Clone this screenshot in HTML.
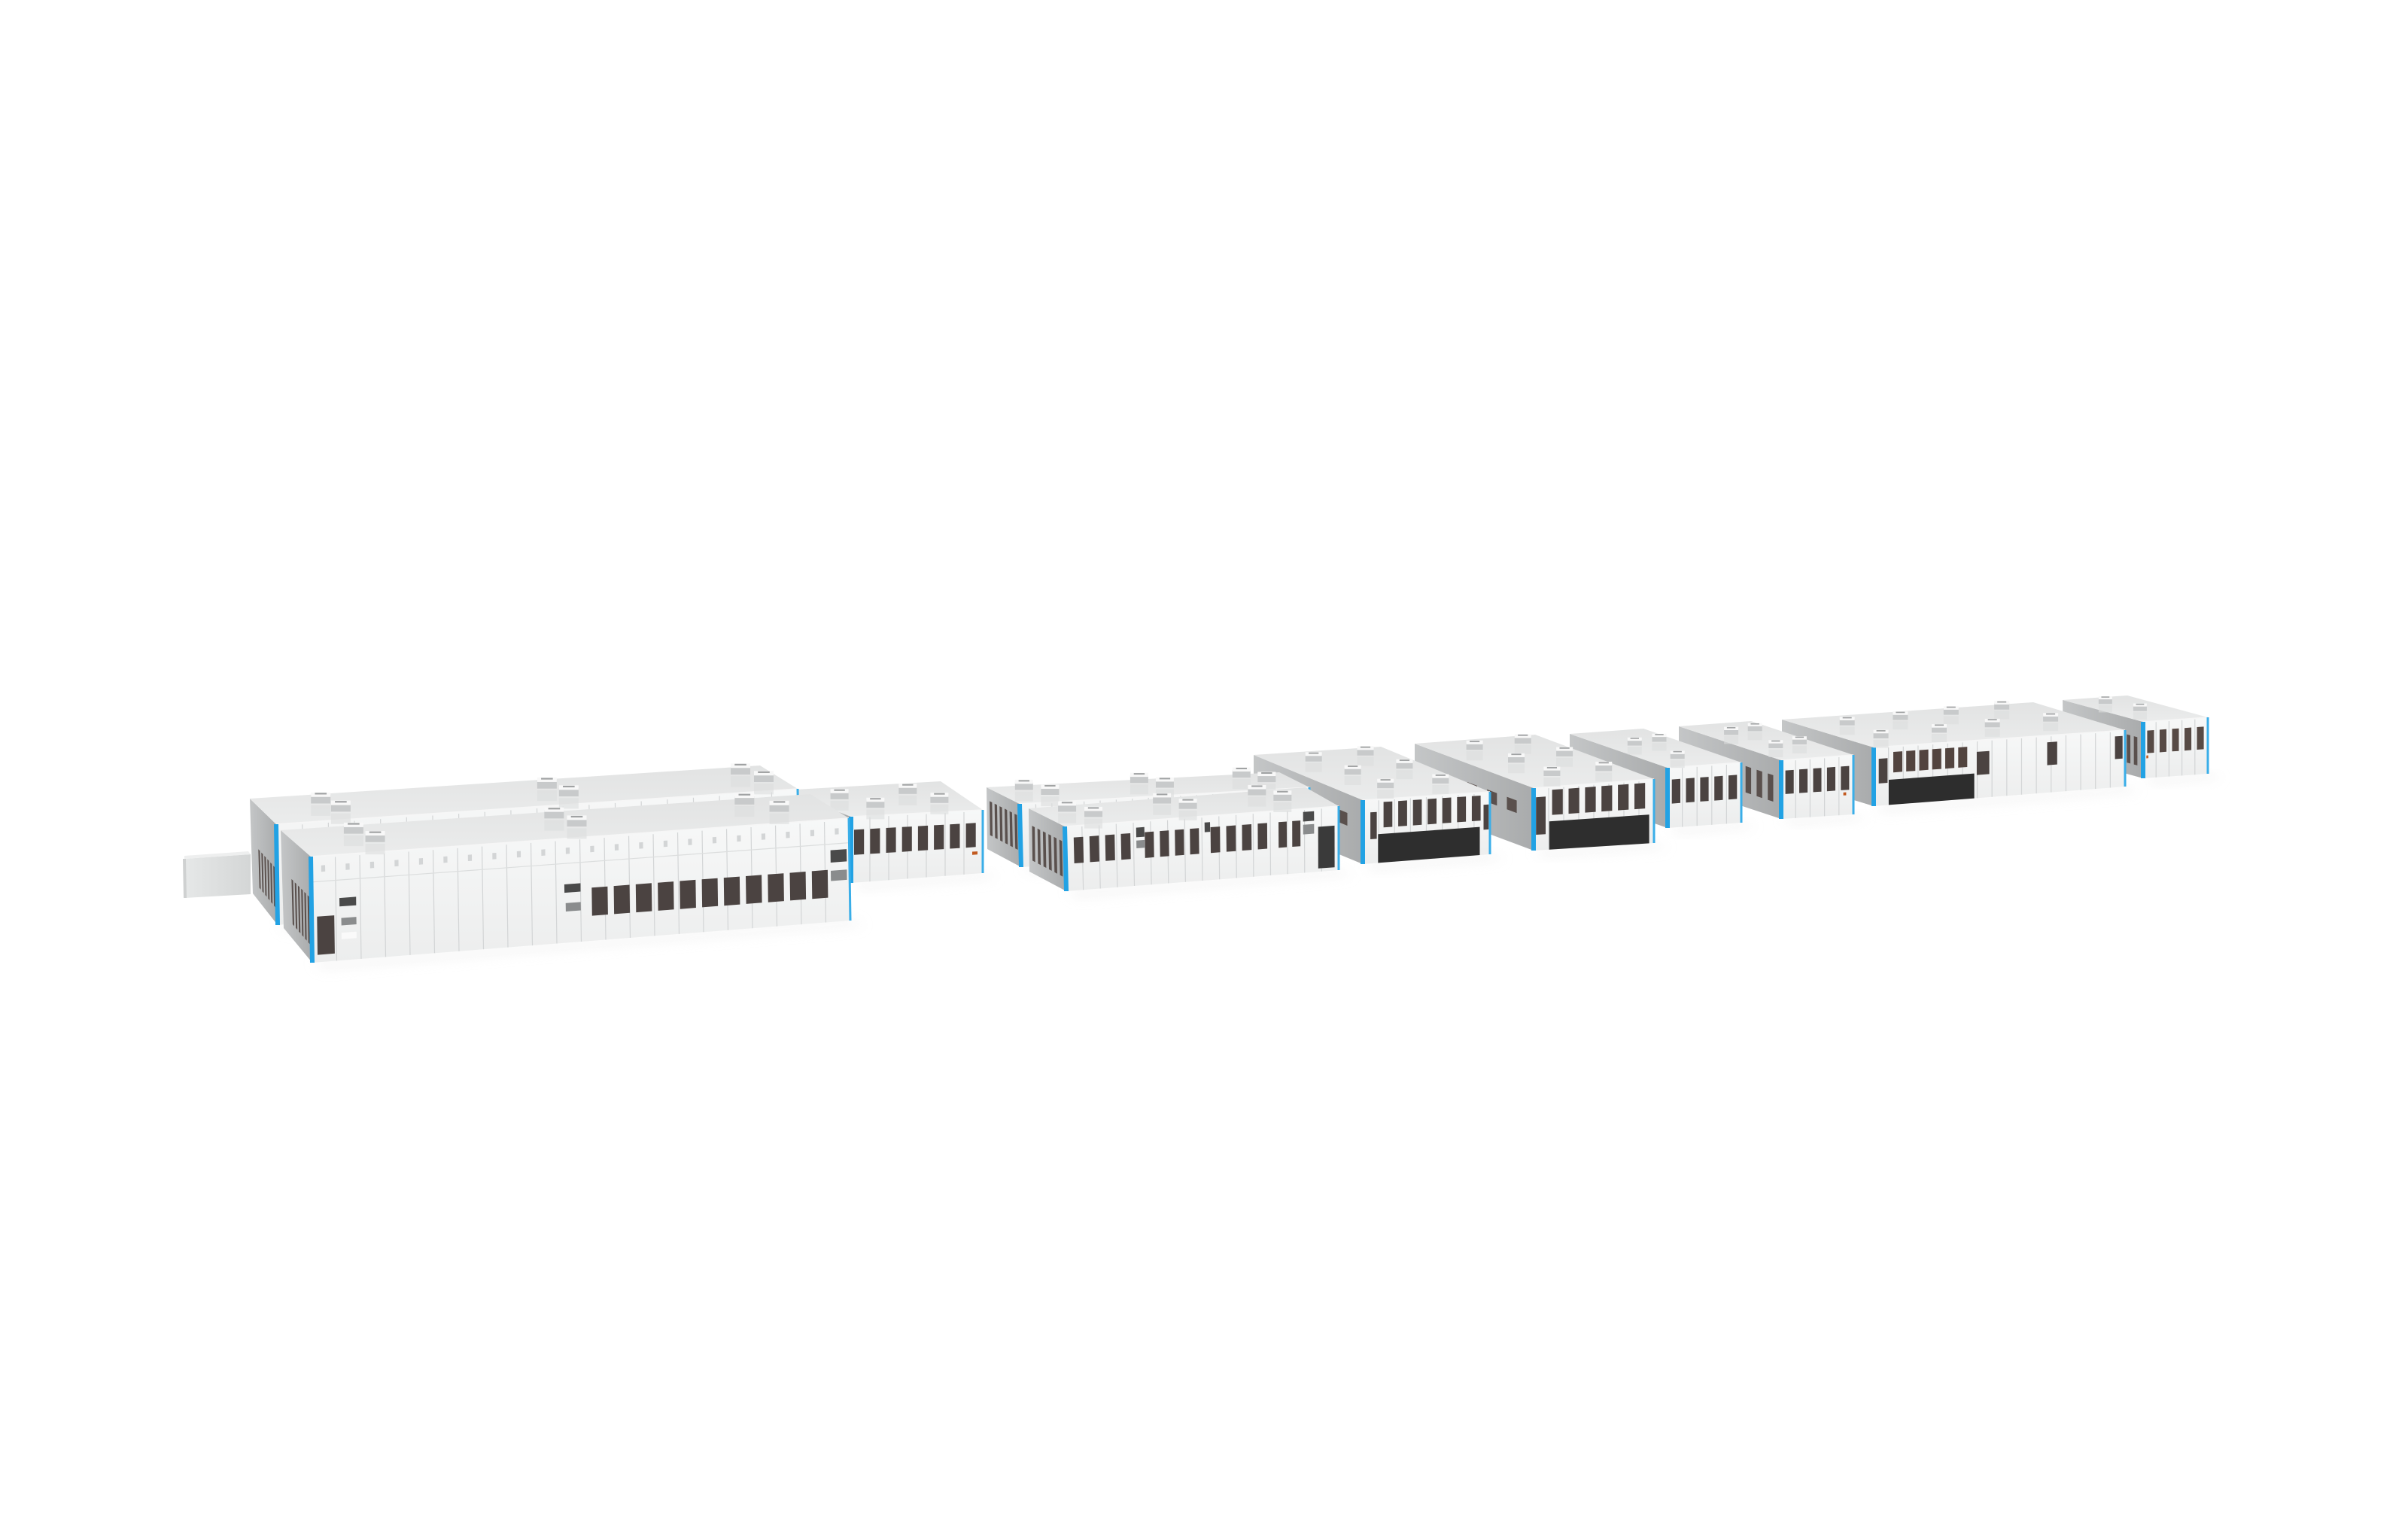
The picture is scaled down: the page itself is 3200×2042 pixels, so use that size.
<!DOCTYPE html>
<html><head><meta charset="utf-8"><style>
html,body{margin:0;padding:0;background:#fff;width:3200px;height:2042px;overflow:hidden}
svg{display:block}
</style></head><body>
<svg id="s" width="3200" height="2042" viewBox="0 0 3200 2042" xmlns="http://www.w3.org/2000/svg">
<defs>
<linearGradient id="side" x1="0" y1="0" x2="1" y2="0"><stop offset="0" stop-color="#c4c6c7"/><stop offset="1" stop-color="#a9abac"/></linearGradient>
<linearGradient id="front" x1="0" y1="0" x2="0" y2="1"><stop offset="0" stop-color="#f7f8f8"/><stop offset="1" stop-color="#eceded"/></linearGradient>
<linearGradient id="roof" x1="0" y1="0" x2="0" y2="1"><stop offset="0" stop-color="#e2e3e3"/><stop offset="1" stop-color="#ebecec"/></linearGradient>
<linearGradient id="tun" x1="0" y1="0" x2="1" y2="0"><stop offset="0" stop-color="#e6e8e8"/><stop offset="1" stop-color="#d4d6d6"/></linearGradient>
<filter id="blur" x="-20%" y="-50%" width="140%" height="200%"><feGaussianBlur stdDeviation="8"/></filter>
</defs>
<g id="g"></g>
</svg>
<script>
var g=document.getElementById('g');var NS='http://www.w3.org/2000/svg';
function el(t,a){var e=document.createElementNS(NS,t);for(var k in a)e.setAttribute(k,a[k]);g.appendChild(e);return e;}
function P(f,u,v){var a=f[0],b=f[1],c=f[2],d=f[3];
 var tx=a[0]+(b[0]-a[0])*u,ty=a[1]+(b[1]-a[1])*u,bx=d[0]+(c[0]-d[0])*u,by=d[1]+(c[1]-d[1])*u;
 return [tx+(bx-tx)*v,ty+(by-ty)*v];}
function poly(pts,fill,extra){var s=pts.map(function(p){return p[0].toFixed(1)+','+p[1].toFixed(1)}).join(' ');var a={points:s,fill:fill};for(var k in extra)a[k]=extra[k];return el('polygon',a);}
function quad(f,u0,u1,v0,v1,fill,extra){return poly([P(f,u0,v0),P(f,u1,v0),P(f,u1,v1),P(f,u0,v1)],fill,extra);}
function line(f,u0,v0,u1,v1,col,w){var a=P(f,u0,v0),b=P(f,u1,v1);el('line',{x1:a[0],y1:a[1],x2:b[0],y2:b[1],stroke:col,'stroke-width':w});}
function row(f,n,ua,ub,va,vb,r,fill){var step=(ub-ua)/n;for(var i=0;i<n;i++){var c=ua+step*(i+0.5);quad(f,c-step*r/2,c+step*r/2,va,vb,fill||'#4b4341');}}
function unit(x,y,w){var h=w*0.42;
 el('rect',{x:x-w/2,y:y+h*0.2,width:w,height:h*1.3,fill:'#dcdede',opacity:0.6});
 el('rect',{x:x-w/2,y:y-h,width:w,height:h,fill:'#c8cacb'});
 el('rect',{x:x-w/2,y:y-h*1.35,width:w,height:h*0.55,fill:'#f8f8f8'});
 el('rect',{x:x-w*0.3,y:y-h*1.3,width:w*0.6,height:h*0.2,fill:'#a0a2a3'});}
function bld(o){
 var s=o.side,f=o.front;var dx=f[1][0]-f[0][0],dy=f[1][1]-f[0][1];
 var rb=o.rb||[s[0][0]+dx,s[0][1]+dy];
 var roof=[s[0],rb,f[1],f[0]];
 poly([f[3],f[2],[f[2][0]+20,f[2][1]+6],[f[3][0]+15,f[3][1]+8]],'#e6e6e6',{filter:'url(#blur)',opacity:0.5});
 poly(s,'url(#side)');
 poly(f,'url(#front)');
 poly(roof,'url(#roof)');
 line(roof,0,1,1,1,'#f6f6f6',1.5);
 var n=o.panels||10;for(var i=1;i<n;i++){line(f,i/n,0.02,i/n,1,'#d3d5d6',1.2);}
 if(o.band){line(f,0,o.band,1,o.band,'#dcdede',1.2);for(var i=0;i<n;i++)quad(f,(i+0.42)/n,(i+0.58)/n,0.09,0.15,'#d3d5d6');}
 if(o.sw)row(s,o.sw[0],o.sw[1],o.sw[2],o.sw[3],o.sw[4],0.5,'#5a504d');
 (o.win||[]).forEach(function(w){row(f,w[0],w[1],w[2],w[3],w[4],w[5]||0.62,w[6]);});
 (o.q||[]).forEach(function(w){quad(f,w[0],w[1],w[2],w[3],w[4]);});
 var a=f[0],b=f[3];poly([[a[0]-3,a[1]],[a[0]+3,a[1]],[b[0]+3,b[1]],[b[0]-3,b[1]]],'#22a2e4');
 a=f[1];b=f[2];poly([[a[0]-1.5,a[1]],[a[0]+1.5,a[1]],[b[0]+1.5,b[1]],[b[0]-1.5,b[1]]],'#3aaee8');
 (o.units||[]).forEach(function(u){var p=P(roof,u[0],u[1]);unit(p[0],p[1],o.us||24);});
}
var B10={side:[[2741,930],[2848,959],[2848,1034],[2742,1005]],front:[[2848,959],[2934,953],[2934,1028],[2848,1034]],panels:5,
 win:[[5,0.02,0.98,0.16,0.56,0.55,'#574a45']],q:[[0.05,0.08,0.6,0.65,'#c25a20']],units:[[0.35,0.25],[0.45,0.6]],us:18,sw:[4,0.6,0.95,0.3,0.8]};
var B9={side:[[2368,956],[2490,993],[2490,1071],[2368,1034]],front:[[2490,993],[2824,970],[2824,1045],[2490,1071]],panels:17,
 win:[[6,0.07,0.38,0.1,0.45,0.7,'#52443f']],q:[[0.02,0.055,0.2,0.62,'#4b4341'],[0.06,0.4,0.57,1,'#2d2d2d'],[0.41,0.46,0.2,0.6,'#4b4341'],[0.69,0.73,0.12,0.52,'#4b4341'],[0.96,0.99,0.1,0.5,'#4b4341']],
 units:[[0.15,0.3],[0.38,0.25],[0.6,0.2],[0.82,0.15],[0.12,0.75],[0.37,0.7],[0.6,0.65],[0.85,0.6]],us:20};
var B8={side:[[2231,965],[2367,1010],[2367,1088],[2231,1043]],front:[[2367,1010],[2463,1003],[2463,1082],[2367,1088]],panels:5,
 win:[[5,0.02,0.98,0.18,0.58,0.6]],q:[[0.86,0.9,0.62,0.67,'#c25a20']],units:[[0.3,0.3],[0.7,0.25],[0.35,0.7],[0.75,0.65]],us:19,sw:[6,0.3,0.95,0.3,0.75]};
var B7={side:[[2086,975],[2216,1020],[2216,1100],[2086,1055]],front:[[2216,1020],[2314,1013],[2314,1093],[2216,1100]],panels:5,
 win:[[5,0.02,0.98,0.2,0.6,0.6]],units:[[0.35,0.4],[0.75,0.35],[0.4,0.8]],us:19};
var B6={side:[[1880,988],[2038,1047],[2038,1130],[1880,1071]],front:[[2038,1047],[2198,1035],[2198,1120],[2038,1130]],panels:8,
 win:[[6,0.13,0.95,0.05,0.45,0.65]],q:[[0.02,0.1,0.15,0.75,'#4b4341'],[0.13,0.96,0.55,1,'#2e2e2e']],
 units:[[0.3,0.2],[0.75,0.15],[0.35,0.5],[0.8,0.45],[0.35,0.8],[0.8,0.78]],us:22,sw:[3,0.4,0.9,0.3,0.5]};
var B5={side:[[1666,1003],[1811,1063],[1811,1148],[1666,1088]],front:[[1811,1063],[1980,1052],[1980,1135],[1811,1148]],panels:8,
 win:[[7,0.14,0.95,0.05,0.45,0.6]],q:[[0.06,0.11,0.2,0.62,'#4b4341'],[0.12,0.92,0.55,1,'#2e2e2e'],[0.95,0.99,0.2,0.6,'#4b4341']],
 units:[[0.3,0.2],[0.75,0.15],[0.35,0.5],[0.8,0.45],[0.35,0.8],[0.8,0.78]],us:22,sw:[3,0.4,0.9,0.3,0.5]};
var B3={side:[[1311,1046],[1355,1068],[1357,1152],[1312,1128]],front:[[1355,1068],[1740,1046],[1740,1130],[1357,1152]],rb:[1700,1026],panels:18,
 sw:[6,0.05,0.95,0.2,0.75],units:[[0.1,0.25],[0.15,0.6],[0.5,0.2],[0.55,0.55],[0.85,0.2],[0.9,0.55]],us:24};
var B4={side:[[1367,1074],[1415,1098],[1417,1184],[1368,1158]],front:[[1415,1098],[1779,1071],[1779,1156],[1417,1184]],rb:[1735,1046],panels:16,
 win:[[4,0.02,0.25,0.18,0.58,0.6],[4,0.28,0.5,0.18,0.58,0.6],[4,0.52,0.75,0.18,0.58,0.6],[2,0.77,0.87,0.18,0.58,0.6]],
 q:[[0.26,0.29,0.1,0.25,'#4a4a4a'],[0.26,0.29,0.3,0.42,'#8a8c8d'],[0.51,0.53,0.1,0.25,'#4a4a4a'],[0.87,0.91,0.05,0.2,'#4a4a4a'],[0.87,0.91,0.25,0.4,'#8a8c8d'],[0.925,0.985,0.3,0.95,'#3a3a3a']],
 sw:[6,0.05,0.95,0.25,0.8],units:[[0.1,0.3],[0.15,0.65],[0.45,0.25],[0.5,0.6],[0.8,0.2],[0.85,0.55]],us:24};
var B2={side:[[1040,1050],[1131,1085],[1131,1173],[1040,1138]],front:[[1131,1085],[1306,1076],[1306,1160],[1131,1173]],rb:[1250,1038],panels:7,
 win:[[8,0.0,0.97,0.2,0.58,0.62]],q:[[0.92,0.96,0.65,0.7,'#c25a20']],units:[[0.2,0.4],[0.68,0.35],[0.3,0.75],[0.78,0.7]],us:24};
var B1b={side:[[332,1061],[367,1095],[369,1229],[336,1187]],front:[[367,1095],[1060,1048],[1062,1160],[369,1229]],rb:[1010,1017],panels:20,
 sw:[6,0.25,0.95,0.45,0.85],units:[[0.12,0.35],[0.14,0.7],[0.56,0.35],[0.58,0.7],[0.94,0.3],[0.96,0.65]],us:26};
var B1={side:[[373,1103],[413,1138],[415,1279],[377,1233]],front:[[413,1138],[1128,1087],[1130,1223],[415,1279]],rb:[1077,1055],panels:22,band:0.24,
 win:[[11,0.515,0.965,0.49,0.76,0.72]],
 q:[[0.01,0.042,0.57,0.93,'#4b4341'],[0.052,0.083,0.41,0.49,'#4a4a4a'],[0.055,0.083,0.6,0.67,'#8a8c8d'],[0.055,0.083,0.74,0.8,'#fafafa'],
    [0.47,0.5,0.44,0.52,'#4a4a4a'],[0.472,0.5,0.62,0.7,'#8a8c8d'],[0.965,0.995,0.3,0.42,'#4a4a4a'],[0.965,0.995,0.5,0.6,'#8a8c8d']],
 sw:[6,0.3,0.95,0.4,0.85],units:[[0.12,0.3],[0.14,0.65],[0.5,0.25],[0.52,0.6],[0.86,0.22],[0.9,0.58]],us:26};
[B10,B9,B8,B7,B6,B5,B3,B4,B2].forEach(bld);
poly([[245,1141],[333,1135],[333,1188],[246,1193]],'url(#tun)');
poly([[245,1137],[330,1131],[333,1135],[245,1141]],'#eeefef');
poly([[243,1141],[247,1141],[248,1193],[244,1193]],'#cfd1d1');
bld(B1b);bld(B1);
</script>
</body></html>
